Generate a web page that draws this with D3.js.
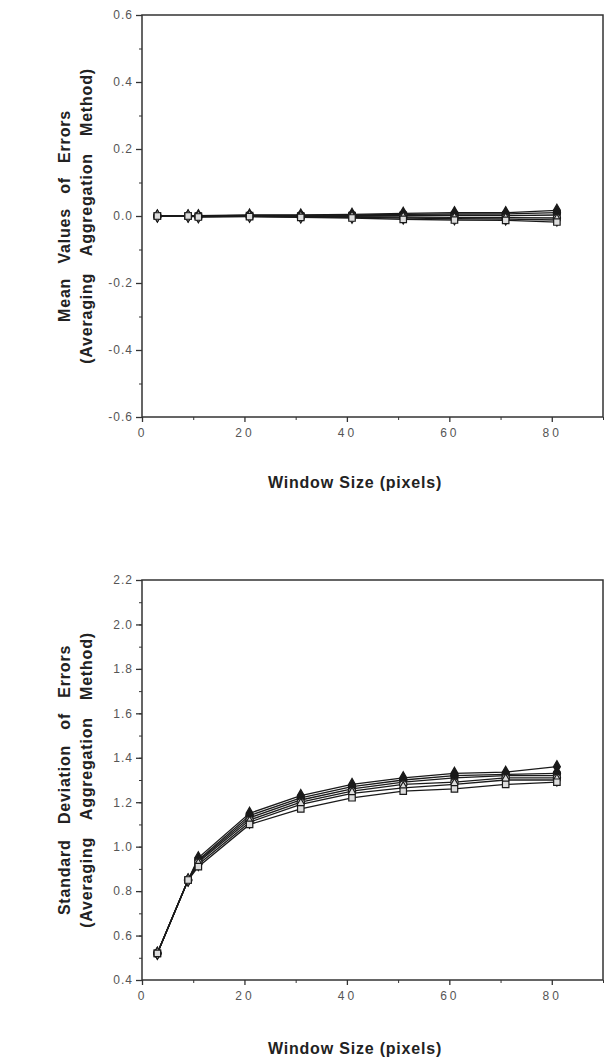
<!DOCTYPE html>
<html lang="en">
<head>
  <meta charset="UTF-8" />
  <title>Errors vs Window Size</title>
  <script src="https://d3js.org/d3.v7.min.js"></script>
  <style>
    body { margin: 0; padding: 0; background: #fff; }
    svg { display: block; font-family: Arial, "Liberation Sans", sans-serif; }
    .tick text { fill: #555; font-size: 12px; }
    .yax .tick text { letter-spacing: 1px; }
    .xax .tick text { letter-spacing: 3px; }
    .title { font-weight: bold; font-size: 16px; fill: #222; letter-spacing: 0.8px; }
  </style>
</head>
<body>
  <svg id="chart" width="607" height="1060"></svg>
  <script>
    // window sizes (pixels)
    const windowSizes = [3, 9, 11, 21, 31, 41, 51, 61, 71, 81];

    // marker per series
    const markerTypes = ['diamondFill', 'circleFill', 'squareFill', 'circleOpen', 'diamondOpen', 'squareOpen'];

    // mean values of errors, one row per series
    const meanSeries = [
      [0, 0, 0.001, 0.003, 0.003, 0.005, 0.008, 0.010, 0.010, 0.017],
      [0, 0, 0.000, 0.002, 0.002, 0.003, 0.005, 0.006, 0.006, 0.010],
      [0, 0, 0.000, 0.001, 0.000, 0.001, 0.002, 0.002, 0.001, 0.003],
      [0, 0, -0.002, 0.000, -0.002, -0.002, -0.003, -0.004, -0.005, -0.006],
      [0, 0, -0.002, -0.001, -0.003, -0.004, -0.006, -0.008, -0.009, -0.012],
      [0, 0, -0.003, -0.002, -0.004, -0.006, -0.010, -0.012, -0.013, -0.018]
    ];

    // standard deviation of errors, one row per series
    const sdSeries = [
      [0.52, 0.85, 0.95, 1.15, 1.23, 1.28, 1.31, 1.33, 1.335, 1.36],
      [0.52, 0.85, 0.94, 1.14, 1.22, 1.27, 1.30, 1.32, 1.325, 1.33],
      [0.52, 0.85, 0.935, 1.13, 1.21, 1.26, 1.29, 1.31, 1.32, 1.32],
      [0.52, 0.85, 0.93, 1.12, 1.20, 1.25, 1.28, 1.29, 1.31, 1.31],
      [0.52, 0.85, 0.92, 1.11, 1.19, 1.24, 1.265, 1.28, 1.30, 1.30],
      [0.52, 0.85, 0.91, 1.10, 1.17, 1.22, 1.25, 1.26, 1.28, 1.29]
    ];

    const meanTicks = [-0.6, -0.4, -0.2, 0.0, 0.2, 0.4, 0.6];
    const sdTicks = [0.4, 0.6, 0.8, 1.0, 1.2, 1.4, 1.6, 1.8, 2.0, 2.2];
    const xTicks = [0, 20, 40, 60, 80];

    const svg = d3.select('#chart');

    const x = d3.scaleLinear().domain([0, 90]).range([142, 603]);

    function drawPanel(opts) {
      const y = d3.scaleLinear().domain(opts.domain).range([opts.bottom, opts.top]);
      const g = svg.append('g');

      // frame
      g.append('rect')
        .attr('x', x(0)).attr('y', opts.top)
        .attr('width', x(90) - x(0)).attr('height', opts.bottom - opts.top)
        .attr('fill', 'none').attr('stroke', '#333').attr('stroke-width', 1.5);

      // minor ticks
      const minorY = d3.range(opts.domain[0], opts.domain[1] + 0.001, 0.1);
      g.append('g')
        .attr('transform', `translate(${x(0)},0)`)
        .call(d3.axisLeft(y).tickValues(minorY).tickSize(3).tickFormat(''))
        .call(a => a.select('.domain').remove())
        .selectAll('line').attr('stroke', '#333');
      g.append('g')
        .attr('transform', `translate(0,${opts.bottom})`)
        .call(d3.axisBottom(x).tickValues([10, 30, 50, 70, 90]).tickSize(3).tickFormat(''))
        .call(a => a.select('.domain').remove())
        .selectAll('line').attr('stroke', '#333');

      // major ticks
      g.append('g')
        .attr('class', 'yax')
        .attr('transform', `translate(${x(0)},0)`)
        .call(d3.axisLeft(y).tickValues(opts.ticks).tickSize(6).tickPadding(3).tickFormat(d => d.toFixed(1)))
        .call(a => a.select('.domain').remove())
        .selectAll('line').attr('stroke', '#333').attr('stroke-width', 1.3);
      g.append('g')
        .attr('class', 'xax')
        .attr('transform', `translate(0,${opts.bottom})`)
        .call(d3.axisBottom(x).tickValues(xTicks).tickSize(5).tickPadding(6).tickFormat(d3.format('d')))
        .call(a => a.select('.domain').remove())
        .selectAll('line').attr('stroke', '#333').attr('stroke-width', 1.3);

      // lines
      const line = d3.line().x((d, i) => x(windowSizes[i])).y(d => y(d));
      g.append('g').selectAll('path')
        .data(opts.series)
        .enter().append('path')
        .attr('d', line)
        .attr('fill', 'none')
        .attr('stroke', '#1a1a1a')
        .attr('stroke-width', 1.3);

      // markers
      opts.series.forEach((vals, si) => {
        const kind = markerTypes[si];
        const shape = kind.startsWith('diamond') ? d3.symbolDiamond
          : kind.startsWith('circle') ? d3.symbolCircle : d3.symbolSquare;
        const open = kind.endsWith('Open');
        g.append('g').selectAll('path')
          .data(vals)
          .enter().append('path')
          .attr('transform', (d, i) => `translate(${x(windowSizes[i])},${y(d)})`)
          .attr('d', d3.symbol().type(shape).size(42))
          .attr('fill', open ? '#ddd' : '#1a1a1a')
          .attr('stroke', '#1a1a1a')
          .attr('stroke-width', 1.2);
      });

      // axis titles
      const cy = (opts.top + opts.bottom) / 2;
      opts.yTitle.forEach((t, k) => {
        g.append('text')
          .attr('class', 'title')
          .attr('transform', `translate(${opts.titleX[k]},${cy}) rotate(-90)`)
          .attr('text-anchor', 'middle')
          .attr('dy', '0.35em')
          .style('word-spacing', opts.wordSpace[k] + 'px')
          .text(t);
      });
      g.append('text')
        .attr('class', 'title')
        .attr('x', 355).attr('y', opts.xTitleY)
        .attr('text-anchor', 'middle')
        .text('Window Size (pixels)');
    }

    drawPanel({
      domain: [-0.6, 0.6], ticks: meanTicks, top: 15, bottom: 417,
      series: meanSeries,
      yTitle: ['Mean Values of Errors', '(Averaging Aggregation Method)'],
      titleX: [64, 86], wordSpace: [9, 12], xTitleY: 488
    });

    drawPanel({
      domain: [0.4, 2.2], ticks: sdTicks, top: 580, bottom: 980,
      series: sdSeries,
      yTitle: ['Standard Deviation of Errors', '(Averaging Aggregation Method)'],
      titleX: [64, 86], wordSpace: [10, 12], xTitleY: 1054
    });
  </script>
</body>
</html>
